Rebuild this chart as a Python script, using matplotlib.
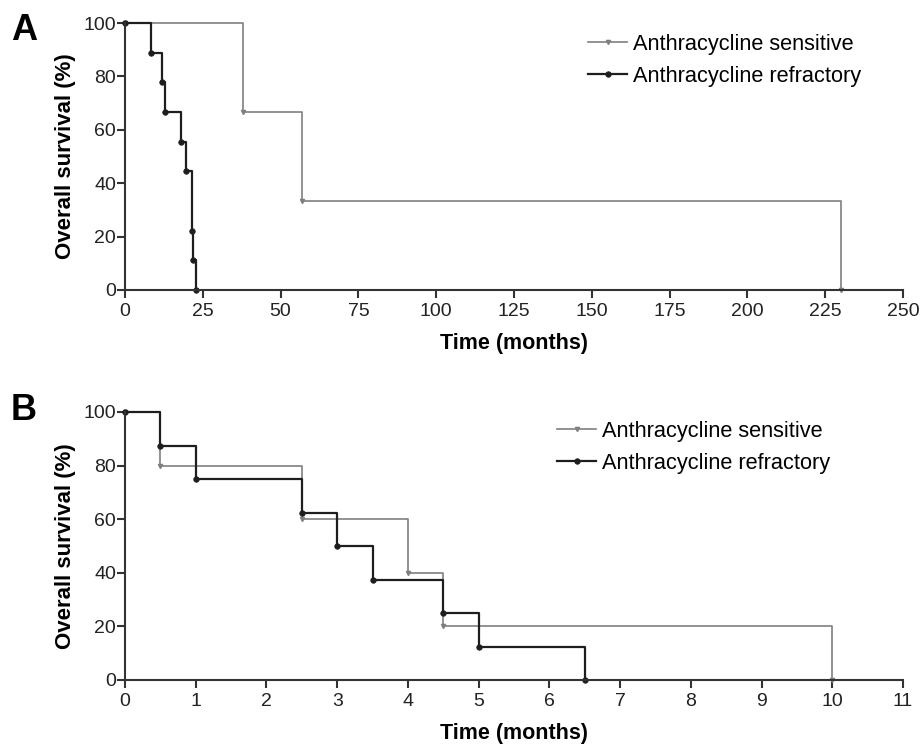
import numpy as np
import matplotlib.pyplot as plt

plt.rcParams['font.family'] = ['Liberation Sans', 'DejaVu Sans']

# Panel A (months)
a_sens_t = [0, 38, 57, 230]
a_sens_s = [100, 66.7, 33.3, 0]
a_refr_t = [0, 8.5, 12, 13, 18, 19.5, 21.5, 22, 22.8]
a_refr_s = [100, 88.9, 77.8, 66.7, 55.6, 44.4, 22.2, 11.1, 0]

# Panel B (months)
b_sens_t = [0, 0.5, 2.5, 4, 4.5, 10]
b_sens_s = [100, 80, 60, 40, 20, 0]
b_refr_t = [0, 0.5, 1, 2.5, 3, 3.5, 4.5, 5, 6.5]
b_refr_s = [100, 87.5, 75, 62.5, 50, 37.5, 25, 12.5, 0]

gray = '#7f7f7f'
dark = '#1e1e1e'
W, H = 921, 745

fig = plt.figure(figsize=(W / 100, H / 100), dpi=100)
axA = fig.add_axes([125/W, 1-290/H, (903-125)/W, (290-23)/H])
axB = fig.add_axes([125/W, 1-680/H, (903-125)/W, (680-412)/H])


def draw(ax, st, ss, rt, rs, xmax, xstep, leg_xy):
    ax.step(st, ss, where='post', color=gray, lw=1.2, marker='v', ms=3,
            label='Anthracycline sensitive')
    ax.step(rt, rs, where='post', color=dark, lw=1.6, marker='o', ms=4,
            mew=0.5, label='Anthracycline refractory')
    ax.set_xlim(0, xmax)
    ax.set_ylim(0, 100)
    ax.set_xticks(np.arange(0, xmax + xstep / 2, xstep))
    ax.set_yticks([0, 20, 40, 60, 80, 100])
    for s in ['top', 'right']:
        ax.spines[s].set_visible(False)
    for s in ['left', 'bottom']:
        ax.spines[s].set_linewidth(1.5)
        ax.spines[s].set_color('#333333')
    ax.tick_params(direction='out', length=5.5, width=1.5, color='#333333',
                   labelsize=14, labelcolor='#222222')
    ax.tick_params(axis='y', pad=1)
    ax.tick_params(axis='x', pad=4)
    for ln in ax.lines:
        ln.set_clip_on(False)
    ax.set_ylabel('Overall survival (%)', fontsize=16, fontweight='bold',
                  labelpad=5)
    ax.set_xlabel('Time (months)', fontsize=15.5, fontweight='bold',
                  labelpad=9)
    fig.legend(handles=ax.lines, loc='upper left',
               bbox_to_anchor=(leg_xy[0] / W, 1 - leg_xy[1] / H),
               frameon=False, fontsize=15.7, handlelength=1.8,
               handletextpad=0.28, labelspacing=0.5, borderaxespad=0,
               borderpad=0)


draw(axA, a_sens_t, a_sens_s, a_refr_t, a_refr_s, 250, 25, (588, 34))
draw(axB, b_sens_t, b_sens_s, b_refr_t, b_refr_s, 11, 1, (557, 421))

fig.text(11/W, 1-31/H, 'A', fontsize=26, fontweight='bold', va='center')
fig.text(11/W, 1-411/H, 'B', fontsize=26, fontweight='bold', va='center')

fig.savefig('out.png', dpi=100)
